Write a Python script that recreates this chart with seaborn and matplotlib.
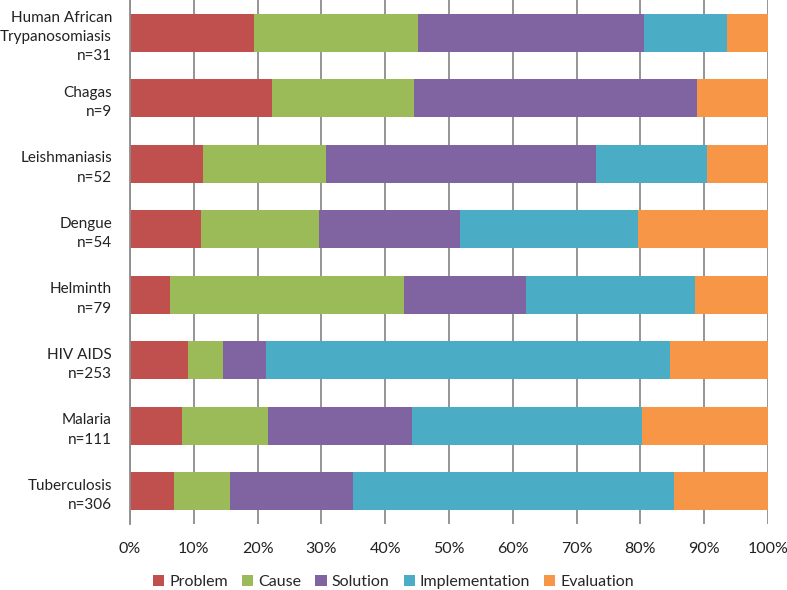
import matplotlib
matplotlib.use("Agg")
import matplotlib.pyplot as plt
import seaborn as sns
import pandas as pd
import numpy as np
from matplotlib.patches import Patch

categories = ["Human African\nTrypanosomiasis\nn=31", "Chagas\nn=9", "Leishmaniasis\nn=52",
              "Dengue\nn=54", "Helminth\nn=79", "HIV AIDS\nn=253", "Malaria\nn=111",
              "Tuberculosis\nn=306"]
stages = ["Problem", "Cause", "Solution", "Implementation", "Evaluation"]
problem = [19.4, 22.2, 11.5, 11.1, 6.3, 9.1, 8.1, 6.9]
cause = [25.8, 22.2, 19.2, 18.5, 36.7, 5.5, 13.5, 8.8]
solution = [35.5, 44.4, 42.3, 22.2, 19.0, 6.7, 22.5, 19.3]
implementation = [12.9, 0.0, 17.3, 27.8, 26.6, 63.2, 36.0, 50.3]
evaluation = [6.5, 11.1, 9.6, 20.4, 11.4, 15.4, 19.8, 14.7]
colors = ["#C0504D", "#9BBB59", "#8064A2", "#4BACC6", "#F79646"]

sns.set_theme(style="white")
plt.rcParams['font.family'] = ['Lato', 'DejaVu Sans']

series = [problem, cause, solution, implementation, evaluation]
cum = np.cumsum(np.array(series), axis=0)
cum = cum / cum[-1] * 100

fig = plt.figure(figsize=(7.87, 5.90), dpi=100)
ax = fig.add_axes([130/787, 66/590, 638/787, 524/590])

for i in range(len(stages) - 1, -1, -1):
    df = pd.DataFrame({"cat": categories, "val": cum[i]})
    sns.barplot(data=df, y="cat", x="val", orient="h", color=colors[i],
                saturation=1, width=0.58, ax=ax, linewidth=0)

ax.set_xlim(0, 100)
ax.set_ylim(7.5, -0.5)
ax.set_xticks(np.arange(0, 101, 10))
ax.set_xticklabels([f"{v}%" for v in range(0, 101, 10)], fontsize=11.5, color="#222222")
ax.set_ylabel("")
ax.set_xlabel("")
ax.tick_params(axis="y", length=0, pad=13, labelsize=11, labelcolor="#222222")
ax.tick_params(axis="x", length=0, pad=13)
for lbl in ax.get_yticklabels():
    lbl.set_multialignment("right")
    lbl.set_linespacing(1.5)
ax.grid(axis="x", color="#8c8c8c", linewidth=1.3)
ax.set_axisbelow(True)
for s in ["top", "bottom", "right"]:
    ax.spines[s].set_visible(False)
ax.spines["left"].set_color("#8c8c8c")
ax.spines["left"].set_linewidth(1.3)

handles = [Patch(facecolor=c, edgecolor="none", label=s) for s, c in zip(stages, colors)]
fig.legend(handles=handles, loc="center", bbox_to_anchor=(0.5, 8/590), ncol=5,
           frameon=False, fontsize=11.5, handlelength=0.7, handleheight=0.7,
           handletextpad=0.3, columnspacing=0.9)

fig.savefig("out.png", dpi=100)
